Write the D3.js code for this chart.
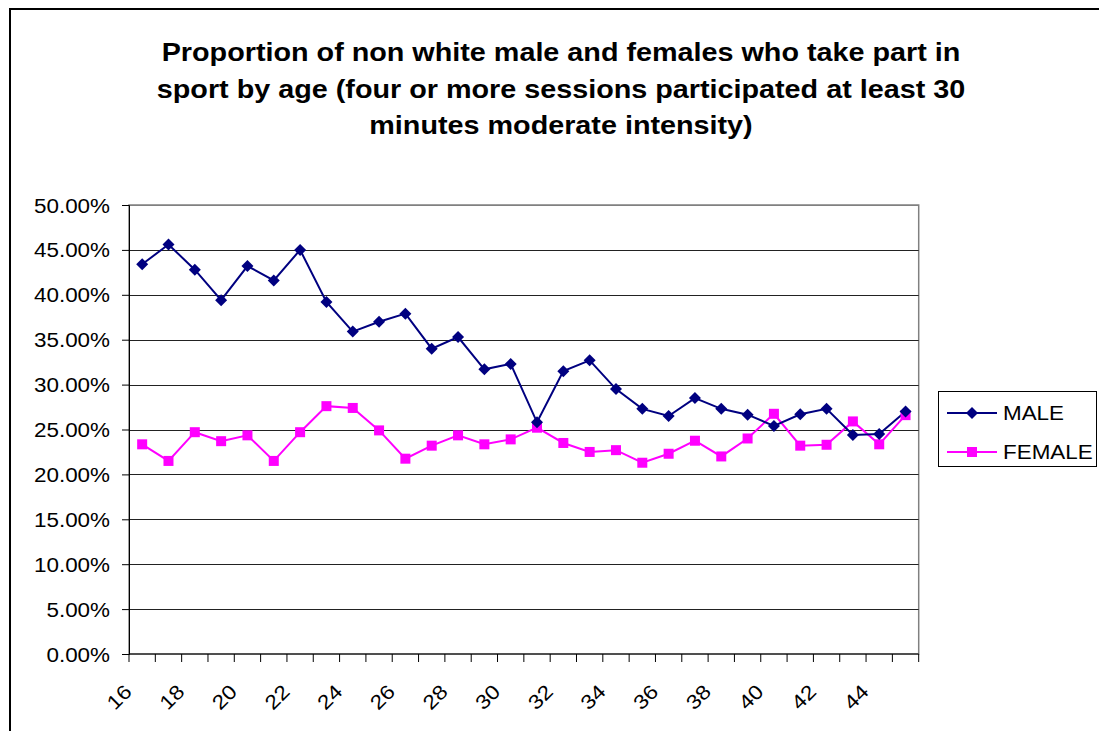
<!DOCTYPE html>
<html><head><meta charset="utf-8">
<script src="https://cdn.jsdelivr.net/npm/d3@7"></script>
<style>
html,body{margin:0;padding:0;background:#fff;}
text{font-family:"Liberation Sans",Arial,sans-serif;}
</style></head>
<body>
<svg id="chart" width="1099" height="731"></svg>
<script>
const ages = [16,17,18,19,20,21,22,23,24,25,26,27,28,29,30,31,32,33,34,35,36,37,38,39,40,41,42,43,44,45];
const male = [43.4,45.6,42.8,39.4,43.2,41.6,45.0,39.2,35.9,37.0,37.9,34.0,35.3,31.7,32.3,25.8,31.5,32.7,29.5,27.3,26.5,28.5,27.3,26.65,25.4,26.7,27.3,24.4,24.5,27.0];
const female = [23.35,21.5,24.7,23.7,24.35,21.5,24.7,27.6,27.4,24.9,21.75,23.2,24.35,23.35,23.9,25.2,23.5,22.5,22.7,21.3,22.3,23.75,22.0,24.0,26.75,23.2,23.3,25.9,23.35,26.6];
const yTicks = [0,5,10,15,20,25,30,35,40,45,50];
const xTickLabels = [16,18,20,22,24,26,28,30,32,34,36,38,40,42,44];
const titleLines = ["Proportion of non white male and females who take part in","sport by age (four or more sessions participated at least 30","minutes moderate intensity)"];
const seriesNames = ["MALE","FEMALE"];

const svg = d3.select("#chart");
const SX = 1.15;
const L = 129, R = 918.7, T = 205, B = 654;

// outer frame
svg.append("rect").attr("x",10).attr("y",9).attr("width",1200).attr("height",800)
  .attr("fill","none").attr("stroke","#000").attr("stroke-width",2);

// title
const title = svg.append("g");
titleLines.forEach((t,i)=>{
  title.append("text").attr("transform",`translate(561,${61+i*36.5}) scale(${SX},1)`)
    .attr("text-anchor","middle").attr("font-size",25).attr("font-weight","bold").attr("fill","#000").text(t);
});

const x = d3.scaleBand().domain(ages).range([L,R]).padding(0);
const y = d3.scaleLinear().domain([0,50]).range([B,T]);
const cx = a => x(a)+x.bandwidth()/2;

// plot area border
svg.append("rect").attr("x",L).attr("y",T).attr("width",R-L).attr("height",B-T)
  .attr("fill","none").attr("stroke","#808080").attr("stroke-width",1.5);

// gridlines
svg.append("g").selectAll("line").data(yTicks.filter(v=>v>0)).join("line")
  .attr("x1",L).attr("x2",R).attr("y1",d=>Math.round(y(d))+0.5).attr("y2",d=>Math.round(y(d))+0.5)
  .attr("stroke",d=>d===50?"#808080":"#222").attr("stroke-width",1);

// y axis
const yAxis = d3.axisLeft(y).tickValues(yTicks).tickSize(7).tickFormat(d=>d.toFixed(2)+"%");
const gy = svg.append("g").attr("transform",`translate(${L},0)`).call(yAxis);
gy.select(".domain").attr("stroke","#000");
gy.selectAll(".tick line").attr("stroke","#000");
gy.selectAll(".tick text").attr("font-size",19.5).attr("fill","#000")
  .attr("x",null).attr("dy",null)
  .attr("transform",`translate(-19,7) scale(${SX},1)`).attr("text-anchor","end");

// x axis
const gx = svg.append("g").attr("transform",`translate(0,${B})`);
gx.append("line").attr("x1",L).attr("x2",R).attr("y1",0).attr("y2",0).attr("stroke","#000");
const bounds = ages.map(a=>x(a)).concat([R]);
gx.selectAll("line.tk").data(bounds).join("line").attr("class","tk")
  .attr("x1",d=>d).attr("x2",d=>d).attr("y1",0).attr("y2",8).attr("stroke","#000");
gx.selectAll("text").data(xTickLabels).join("text")
  .attr("transform",d=>`translate(${cx(d)-14},${34}) rotate(-45) scale(${SX},1)`)
  .attr("text-anchor","end").attr("dy","0.35em").attr("font-size",20).attr("fill","#000").text(d=>d);

// lines
const line = d3.line().x((d,i)=>cx(ages[i])).y(d=>y(d));
svg.append("path").datum(female).attr("d",line).attr("fill","none").attr("stroke","#FF00FF").attr("stroke-width",2);
svg.append("path").datum(male).attr("d",line).attr("fill","none").attr("stroke","#000080").attr("stroke-width",2);

// markers
const diamond = s=>`M0,${-s}L${s},0L0,${s}L${-s},0Z`;
svg.append("g").selectAll("rect").data(female).join("rect")
  .attr("x",(d,i)=>cx(ages[i])-5).attr("y",d=>y(d)-5).attr("width",10).attr("height",10).attr("fill","#FF00FF");
svg.append("g").selectAll("path").data(male).join("path")
  .attr("transform",(d,i)=>`translate(${cx(ages[i])},${y(d)})`).attr("d",diamond(6)).attr("fill","#000080");

// legend
const lg = svg.append("g");
lg.append("rect").attr("x",938.5).attr("y",391.5).attr("width",158).attr("height",75)
  .attr("fill","#fff").attr("stroke","#000").attr("stroke-width",1);
const colors = ["#000080","#FF00FF"];
seriesNames.forEach((n,i)=>{
  const yy = 413 + i*39;
  lg.append("line").attr("x1",947).attr("x2",997).attr("y1",yy).attr("y2",yy).attr("stroke",colors[i]).attr("stroke-width",2);
  if(i===0) lg.append("path").attr("transform",`translate(972,${yy})`).attr("d",diamond(6)).attr("fill",colors[i]);
  else lg.append("rect").attr("x",967).attr("y",yy-5).attr("width",10).attr("height",10).attr("fill",colors[i]);
  lg.append("text").attr("transform",`translate(1003,${yy+7}) scale(${SX},1)`).attr("font-size",19.5).attr("fill","#000").text(n);
});
</script>
</body></html>
